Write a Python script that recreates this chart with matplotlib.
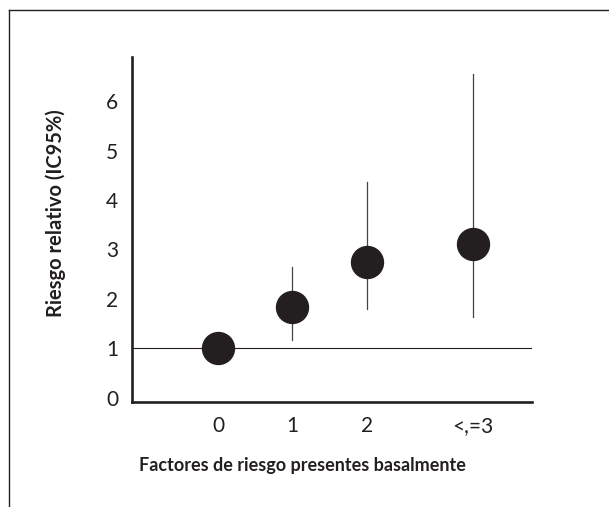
import matplotlib
matplotlib.use('Agg')
import matplotlib.pyplot as plt
from matplotlib.lines import Line2D

# Data
categories = ['0', '1', '2', '<,=3']
x_pos = [0, 1, 2, 3.42]
rr = [1.0, 1.83, 2.74, 3.12]
ci_low = [1.0, 1.16, 1.79, 1.63]
ci_high = [1.0, 2.64, 4.37, 6.55]
y_ticks = [0, 1, 2, 3, 4, 5, 6]

plt.rcParams['font.family'] = ['Lato', 'DejaVu Sans']
dark = '#231f20'

fig = plt.figure(figsize=(6.09, 5.07), dpi=100)
ax = fig.add_axes([0.2167, 0.2071, 0.6569, 0.6805])

# Reference line at RR = 1
ax.axhline(1, color=dark, linewidth=0.8, zorder=1)

# Confidence intervals
for x, lo, hi in zip(x_pos, ci_low, ci_high):
    if hi > lo:
        ax.plot([x, x], [lo, hi], color='#444444', linewidth=0.9, zorder=2)

# Point estimates
ax.plot(x_pos, rr, linestyle='none', marker='o', markersize=23,
        color=dark, zorder=3)

ax.set_xlim(-1.154, 4.215)
ax.set_ylim(-0.09, 6.9)

ax.set_xticks(x_pos)
ax.set_xticklabels(categories)
ax.set_yticks(y_ticks)
ax.tick_params(length=0, labelsize=15, colors=dark)
ax.tick_params(axis='x', pad=10)
ax.tick_params(axis='y', pad=10)

for side in ['top', 'right']:
    ax.spines[side].set_visible(False)
for side in ['left', 'bottom']:
    ax.spines[side].set_linewidth(1.9)
    ax.spines[side].set_color(dark)

ax.set_xlabel('Factores de riesgo presentes basalmente', fontsize=13,
              fontweight='bold', color=dark)
ax.xaxis.set_label_coords(0.425, -0.16)
ax.set_ylabel('Riesgo relativo (IC95%)', fontsize=14.5, fontweight='bold',
              color=dark)
ax.yaxis.set_label_coords(-0.165, 0.548)

# Outer frame (top and left only)
fig.add_artist(Line2D([9 / 609, 1.0], [1 - 10 / 507, 1 - 10 / 507],
                      transform=fig.transFigure, color=dark, linewidth=1.0))
fig.add_artist(Line2D([9 / 609, 9 / 609], [0, 1 - 10 / 507],
                      transform=fig.transFigure, color=dark, linewidth=1.0))

fig.savefig('out.png', dpi=100)
